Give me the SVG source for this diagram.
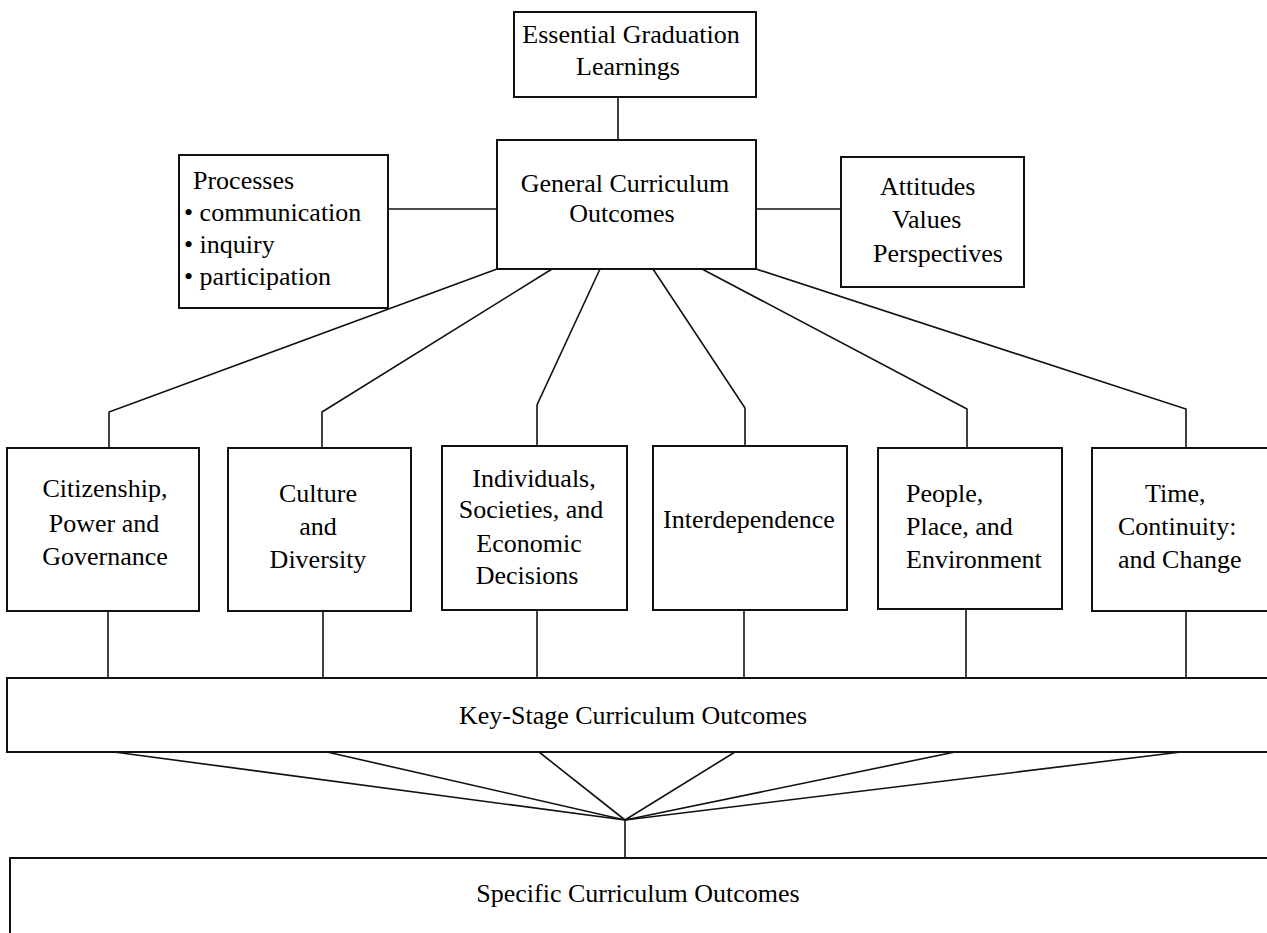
<svg xmlns="http://www.w3.org/2000/svg" width="1267" height="933" viewBox="0 0 1267 933">
<style>
.box{fill:#fff;stroke:#111;stroke-width:2}
.ln{fill:none;stroke:#111;stroke-width:1.6}
text{font-family:"Liberation Serif","Times New Roman",serif;font-size:26px;fill:#000}
.c{text-anchor:middle}
</style>
<rect x="0" y="0" width="1267" height="933" fill="#fff"/>
<g id="connectors">
<line class="ln" x1="618" y1="97" x2="618" y2="140"/>
<line class="ln" x1="388" y1="209" x2="497" y2="209"/>
<line class="ln" x1="756" y1="209" x2="841" y2="209"/>
<polyline class="ln" points="497,269 109,412 109,448"/>
<polyline class="ln" points="552,269 322,412 322,448"/>
<polyline class="ln" points="600,269 537,405 537,446"/>
<polyline class="ln" points="653,269 745,408 745,446"/>
<polyline class="ln" points="702,269 967,409 967,448"/>
<polyline class="ln" points="756,269 1186,409 1186,448"/>
<line class="ln" x1="108" y1="611" x2="108" y2="678"/>
<line class="ln" x1="323" y1="611" x2="323" y2="678"/>
<line class="ln" x1="537" y1="610" x2="537" y2="678"/>
<line class="ln" x1="744" y1="610" x2="744" y2="678"/>
<line class="ln" x1="966" y1="609" x2="966" y2="678"/>
<line class="ln" x1="1186" y1="611" x2="1186" y2="678"/>
<line class="ln" x1="114" y1="752" x2="625" y2="820"/>
<line class="ln" x1="327" y1="752" x2="625" y2="820"/>
<line class="ln" x1="539" y1="752" x2="625" y2="820"/>
<line class="ln" x1="735" y1="752" x2="625" y2="820"/>
<line class="ln" x1="955" y1="752" x2="625" y2="820"/>
<line class="ln" x1="1181" y1="752" x2="625" y2="820"/>
<line class="ln" x1="625" y1="820" x2="625" y2="858"/>
</g>
<g id="egl">
<rect class="box" x="514" y="12" width="242" height="85"/>
<text class="c" x="631" y="43">Essential Graduation</text>
<text class="c" x="628" y="75">Learnings</text>
</g>
<g id="gco">
<rect class="box" x="497" y="140" width="259" height="129"/>
<text class="c" x="625" y="192">General Curriculum</text>
<text class="c" x="622" y="222">Outcomes</text>
</g>
<g id="processes">
<rect class="box" x="179" y="155" width="209" height="153"/>
<text x="193" y="189">Processes</text>
<text x="184" y="221">• communication</text>
<text x="184" y="253">• inquiry</text>
<text x="184" y="285">• participation</text>
</g>
<g id="attitudes">
<rect class="box" x="841" y="157" width="183" height="130"/>
<text x="880" y="195">Attitudes</text>
<text x="892" y="228">Values</text>
<text x="873" y="262">Perspectives</text>
</g>
<g id="citizenship">
<rect class="box" x="7" y="448" width="192" height="163"/>
<text class="c" x="105" y="497">Citizenship,</text>
<text class="c" x="104" y="532">Power and</text>
<text class="c" x="105" y="565">Governance</text>
</g>
<g id="culture">
<rect class="box" x="228" y="448" width="183" height="163"/>
<text class="c" x="318" y="502">Culture</text>
<text class="c" x="318" y="535">and</text>
<text class="c" x="318" y="568">Diversity</text>
</g>
<g id="individuals">
<rect class="box" x="442" y="446" width="185" height="164"/>
<text class="c" x="534" y="487">Individuals,</text>
<text class="c" x="531" y="518">Societies, and</text>
<text class="c" x="529" y="552">Economic</text>
<text class="c" x="527" y="584">Decisions</text>
</g>
<g id="interdependence">
<rect class="box" x="653" y="446" width="194" height="164"/>
<text class="c" x="749" y="528">Interdependence</text>
</g>
<g id="people">
<rect class="box" x="878" y="448" width="184" height="161"/>
<text x="906" y="502">People,</text>
<text x="906" y="535">Place, and</text>
<text x="906" y="568">Environment</text>
</g>
<g id="time">
<rect class="box" x="1092" y="448" width="190" height="163"/>
<text x="1145" y="502">Time,</text>
<text x="1118" y="535">Continuity:</text>
<text x="1118" y="568">and Change</text>
</g>
<g id="keystage">
<rect class="box" x="7" y="678" width="1275" height="74"/>
<text class="c" x="633" y="724">Key-Stage Curriculum Outcomes</text>
</g>
<g id="specific">
<rect class="box" x="10" y="858" width="1275" height="90"/>
<text class="c" x="638" y="902">Specific Curriculum Outcomes</text>
</g>
</svg>
